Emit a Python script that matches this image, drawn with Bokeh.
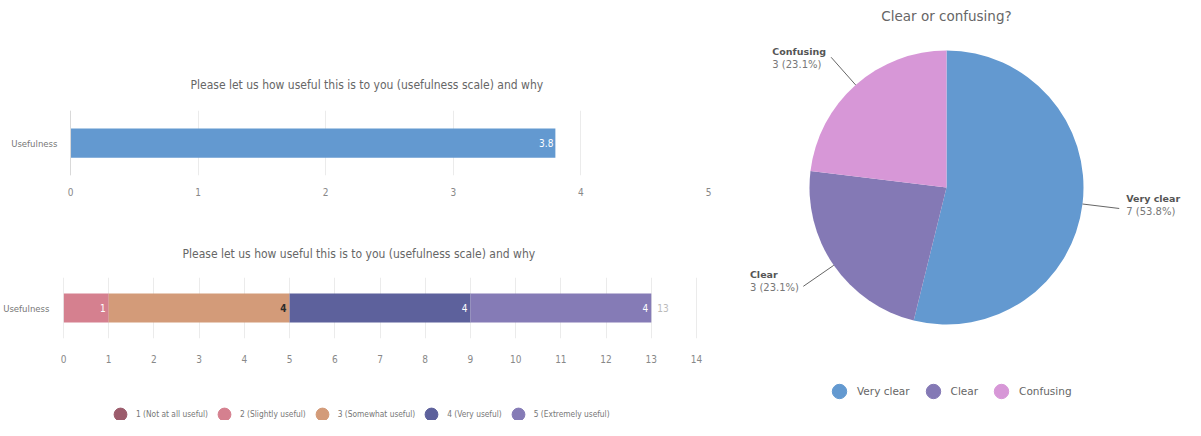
import math
import numpy as np
from bokeh.plotting import figure
from bokeh.models import (ColumnDataSource, FactorRange, Range1d, Legend, LegendItem,
                          FixedTicker, Span)
from bokeh.layouts import row, column
from bokeh.embed import file_html
from bokeh.resources import INLINE
from bokeh.core.properties import value

# ---------------- data ----------------
bar_title = "Please let us how useful this is to you (usefulness scale) and why"
categories = ["Usefulness"]
mean_scores = [3.8]
mean_ticks = [0, 1, 2, 3, 4, 5]
scale_labels = ["1 (Not at all useful)", "2 (Slightly useful)", "3 (Somewhat useful)",
                "4 (Very useful)", "5 (Extremely useful)"]
scale_counts = [0, 1, 4, 4, 4]
count_ticks = list(range(0, 15))
pie_title = "Clear or confusing?"
pie_labels = ["Very clear", "Clear", "Confusing"]
pie_counts = [7, 3, 3]

# ---------------- styles ----------------
NARROW = "DejaVu Sans Condensed"
SANS = "DejaVu Sans"
mean_color = "#6399d0"
scale_colors = ["#9c5c6c", "#d5808f", "#d39b79", "#5d619c", "#857bb6"]
scale_text_colors = ["#ffffff", "#ffffff", "#2b2b2b", "#ffffff", "#ffffff"]
scale_text_styles = ["normal", "normal", "bold", "normal", "normal"]
pie_colors = ["#6399d0", "#8479b5", "#d797d7"]

LW = 712          # left column width
FL, FR = 63, 4    # frame borders (left, right) shared by the left column


def style_bar(p, ticks, standoff_y, title_standoff, title_offset, xlab_standoff):
    p.outline_line_color = None
    p.title.text_font = NARROW
    p.title.text_font_size = "12px"
    p.title.text_font_style = "normal"
    p.title.text_color = "#666666"
    p.title.align = "left"
    p.title.offset = title_offset
    p.title.standoff = title_standoff
    p.xaxis.ticker = FixedTicker(ticks=ticks)
    p.xaxis.axis_line_color = None
    p.xaxis.major_tick_line_color = None
    p.xaxis.minor_tick_line_color = None
    p.xaxis.major_label_text_font = NARROW
    p.xaxis.major_label_text_font_size = "10px"
    p.xaxis.major_label_text_color = "#888888"
    p.xaxis.major_label_standoff = xlab_standoff
    p.yaxis.axis_line_color = None
    p.yaxis.major_tick_line_color = None
    p.yaxis.minor_tick_line_color = None
    p.yaxis.major_label_text_font = NARROW
    p.yaxis.major_label_text_font_size = "9.5px"
    p.yaxis.major_label_text_color = "#777777"
    p.yaxis.major_label_standoff = standoff_y
    p.yaxis.axis_label_standoff = 0
    p.xgrid.grid_line_color = "#ebebeb"
    p.ygrid.grid_line_color = None
    p.add_layout(Span(location=0, dimension="height", line_color="#d9d9d9", line_width=1))


# ---------------- chart 1: mean score ----------------
p1 = figure(width=LW, height=207, y_range=FactorRange(*categories), x_range=Range1d(-0.055, 5),
            output_backend="svg", toolbar_location=None, title=bar_title,
            min_border_left=FL, min_border_right=FR, min_border_top=110, min_border_bottom=32)
style_bar(p1, mean_ticks, 0, 37, 127, 6)
src1 = ColumnDataSource(dict(cat=categories, score=mean_scores,
                             lab=[f"{v:g}" for v in mean_scores]))
p1.hbar(y="cat", left=0, right="score", height=0.45, source=src1,
        fill_color=mean_color, line_color=None)
p1.text(x="score", y="cat", text="lab", source=src1, x_offset=-2, text_align="right",
        text_baseline="middle", text_color="#ffffff", text_font=value(NARROW),
        text_font_size="10px")

# ---------------- chart 2: stacked counts ----------------
p2 = figure(width=LW, height=170, y_range=FactorRange(*categories), x_range=Range1d(0, 14.265),
            output_backend="svg", toolbar_location=None, title=bar_title,
            min_border_left=FL, min_border_right=FR, min_border_top=70, min_border_bottom=39)
style_bar(p2, count_ticks, 8, 34, 119, 10)
stack_data = dict(cat=categories)
for lab, c in zip(scale_labels, scale_counts):
    stack_data[lab] = [c]
src2 = ColumnDataSource(stack_data)
p2.hbar_stack(scale_labels, y="cat", height=0.475, color=scale_colors, line_color=None,
              source=src2)
ends = np.cumsum(scale_counts)
seg = [(e, str(c), tc, ts) for e, c, tc, ts in
       zip(ends, scale_counts, scale_text_colors, scale_text_styles) if c > 0]
src2l = ColumnDataSource(dict(x=[s[0] for s in seg], y=categories * len(seg),
                              t=[s[1] for s in seg], c=[s[2] for s in seg],
                              st=[s[3] for s in seg]))
p2.text(x="x", y="y", text="t", text_color="c", text_font_style="st", source=src2l,
        x_offset=-3, text_align="right", text_baseline="middle", text_font=value(NARROW),
        text_font_size="10px")
total = int(sum(scale_counts))
p2.text(x=[total], y=categories, text=[str(total)], x_offset=6, text_align="left",
        text_baseline="middle", text_color="#bbbbbb", text_font=value(NARROW),
        text_font_size="10px")

# ---------------- legend for chart 2 ----------------
NAN = float("nan")
pl = figure(width=LW, height=43, x_range=Range1d(0, 1), y_range=Range1d(0, 1),
            output_backend="svg", toolbar_location=None, x_axis_type=None, y_axis_type=None,
            min_border_left=FL, min_border_right=FR, min_border_top=0, min_border_bottom=0)
pl.outline_line_color = None
pl.xgrid.grid_line_color = None
pl.ygrid.grid_line_color = None
leg_items = []
for lab, col in zip(scale_labels, scale_colors):
    r = pl.scatter(x=[NAN], y=[NAN], marker="circle", fill_color=col, line_color=col)
    leg_items.append(LegendItem(label=lab, renderers=[r]))
leg1 = Legend(items=leg_items, orientation="horizontal", location=(41, -10),
              glyph_width=32, glyph_height=32, label_standoff=0, spacing=0, padding=0,
              margin=0, border_line_color=None, background_fill_alpha=0,
              label_text_font=NARROW, label_text_font_size="8.3px",
              label_text_color="#777777")
pl.add_layout(leg1)

left = column(p1, p2, pl)

# ---------------- pie ----------------
PW, PH = 473, 420
pp = figure(width=PW, height=PH, x_range=Range1d(0, PW), y_range=Range1d(0, PH),
            output_backend="svg", toolbar_location=None, x_axis_type=None, y_axis_type=None,
            min_border=0)
pp.outline_line_color = None
pp.xgrid.grid_line_color = None
pp.ygrid.grid_line_color = None
cx, cy, R = 234, 233, 137
tot = sum(pie_counts)
cum = np.concatenate([[0], np.cumsum(pie_counts)])
starts = [math.pi / 2 - 2 * math.pi * cum[i] / tot for i in range(len(pie_counts))]
endsA = [math.pi / 2 - 2 * math.pi * cum[i + 1] / tot for i in range(len(pie_counts))]
srcp = ColumnDataSource(dict(s=starts, e=endsA, c=pie_colors, lab=pie_labels))
pp.wedge(x=cx, y=cy, radius=R, start_angle="s", end_angle="e", direction="clock",
         fill_color="c", line_color=None, source=srcp)
pp.text(x=[cx], y=[PH - 15], text=[pie_title], text_align="center", text_baseline="middle",
        text_font=value(SANS), text_font_size="13.5px", text_color="#666666")

x0s, y0s, x1s, y1s = [], [], [], []
nx, ny, nt, vx, vy, vt = [], [], [], [], [], []
for i, (lab, cnt) in enumerate(zip(pie_labels, pie_counts)):
    mid = math.pi / 2 - 2 * math.pi * (cum[i] + cnt / 2) / tot
    ex, ey = cx + R * math.cos(mid), cy + R * math.sin(mid)
    ox, oy = cx + (R + 37) * math.cos(mid), cy + (R + 37) * math.sin(mid)
    x0s.append(ex); y0s.append(ey); x1s.append(ox); y1s.append(oy)
    vstr = f"{cnt} ({100 * cnt / tot:.1f}%)"
    if math.cos(mid) >= 0:
        lx = ox + 7
    else:
        bw = max(len(lab) * 6.2, len(vstr) * 5.6)
        lx = ox - 3 - bw
    sdown = -math.sin(mid)
    off = 9.4 + 4.6 * sdown
    nx.append(lx); ny.append(oy + off); nt.append(lab)
    vx.append(lx); vy.append(oy + off - 13); vt.append(vstr)
pp.segment(x0=x0s, y0=y0s, x1=x1s, y1=y1s, line_color="#666666", line_width=1)
pp.text(x=nx, y=ny, text=nt, text_align="left", text_baseline="middle",
        text_font=value(SANS), text_font_size="9.5px", text_font_style="bold",
        text_color="#555555")
pp.text(x=vx, y=vy, text=vt, text_align="left", text_baseline="middle",
        text_font=value(SANS), text_font_size="10px", text_color="#777777")

pie_items = []
for lab, col in zip(pie_labels, pie_colors):
    r = pp.scatter(x=[NAN], y=[NAN], marker="circle", fill_color=col, line_color=col)
    pie_items.append(LegendItem(label=lab, renderers=[r]))
leg2 = Legend(items=pie_items, orientation="horizontal", location=(109, 11),
              glyph_width=36, glyph_height=36, label_standoff=0, spacing=5, padding=0,
              margin=0, border_line_color=None, background_fill_alpha=0,
              label_text_font=SANS, label_text_font_size="10.5px",
              label_text_color="#666666")
pp.add_layout(leg2)

layout = row(left, pp)
open("out.html", "w").write(file_html(layout, INLINE))
